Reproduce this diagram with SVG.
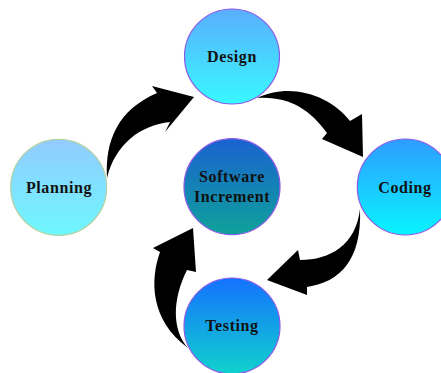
<svg xmlns="http://www.w3.org/2000/svg" width="441" height="373" viewBox="0 0 441 373">
<defs>
<linearGradient id="gPlan" x1="0" y1="0" x2="0" y2="1"><stop offset="0" stop-color="#92cbff"/><stop offset="1" stop-color="#6ef8ff"/></linearGradient>
<linearGradient id="gDesign" x1="0" y1="0" x2="0" y2="1"><stop offset="0" stop-color="#5aaeff"/><stop offset="1" stop-color="#38f8ff"/></linearGradient>
<linearGradient id="gCenter" x1="0" y1="0" x2="0" y2="1"><stop offset="0" stop-color="#1a62d0"/><stop offset="1" stop-color="#0ea29a"/></linearGradient>
<linearGradient id="gCoding" x1="0" y1="0" x2="0" y2="1"><stop offset="0" stop-color="#2e9cff"/><stop offset="1" stop-color="#08f4ff"/></linearGradient>
<linearGradient id="gTest" x1="0" y1="0" x2="0" y2="1"><stop offset="0" stop-color="#1472ff"/><stop offset="1" stop-color="#10d2cc"/></linearGradient>
</defs>
<style>
.node{stroke:#8a5ae8;stroke-width:1.2}
.lbl{font-family:"Liberation Serif","Times New Roman",serif;font-weight:bold;font-size:16px;letter-spacing:0.6px;fill:#111;text-anchor:middle}
.arrow{fill:#000}
</style>
<rect width="441" height="373" fill="#fff"/>
<g id="connectors">
<path class="arrow" d="M107,178 C105,140 118,110 157,93 L152,86 L194,97 L165,132 L170,122 C140,125 115,145 107,178 Z"/>
<path class="arrow" d="M257,98 C290,82 330,95 350,121 L362,114 L363,157 L322,139 L327,133 C310,110 290,96 257,98 Z"/>
<path class="arrow" d="M360,209 C362,260 340,282 307,287 L307,295 L267,280 L298,250 L300,260 C330,260 356,245 360,209 Z"/>
<path class="arrow" d="M188,348 C150,320 150,280 160,252 L153,248 L193,228 L196,272 L187,270 C172,300 172,330 188,348 Z"/>
</g>
<g id="planning"><circle class="node" cx="58.7" cy="187.3" r="48" fill="url(#gPlan)" style="stroke:#b4d2a4"/><text class="lbl" x="59" y="193">Planning</text></g>
<g id="design"><circle class="node" cx="232" cy="56.5" r="47.5" fill="url(#gDesign)"/><text class="lbl" x="232" y="62">Design</text></g>
<g id="increment"><circle class="node" cx="232" cy="186.7" r="48" fill="url(#gCenter)"/><text class="lbl" x="232" y="182">Software</text><text class="lbl" x="232" y="201.5">Increment</text></g>
<g id="coding"><circle class="node" cx="405.3" cy="187" r="48" fill="url(#gCoding)"/><text class="lbl" x="405" y="193">Coding</text></g>
<g id="testing"><circle class="node" cx="232" cy="326" r="48" fill="url(#gTest)"/><text class="lbl" x="232" y="331">Testing</text></g>
</svg>
